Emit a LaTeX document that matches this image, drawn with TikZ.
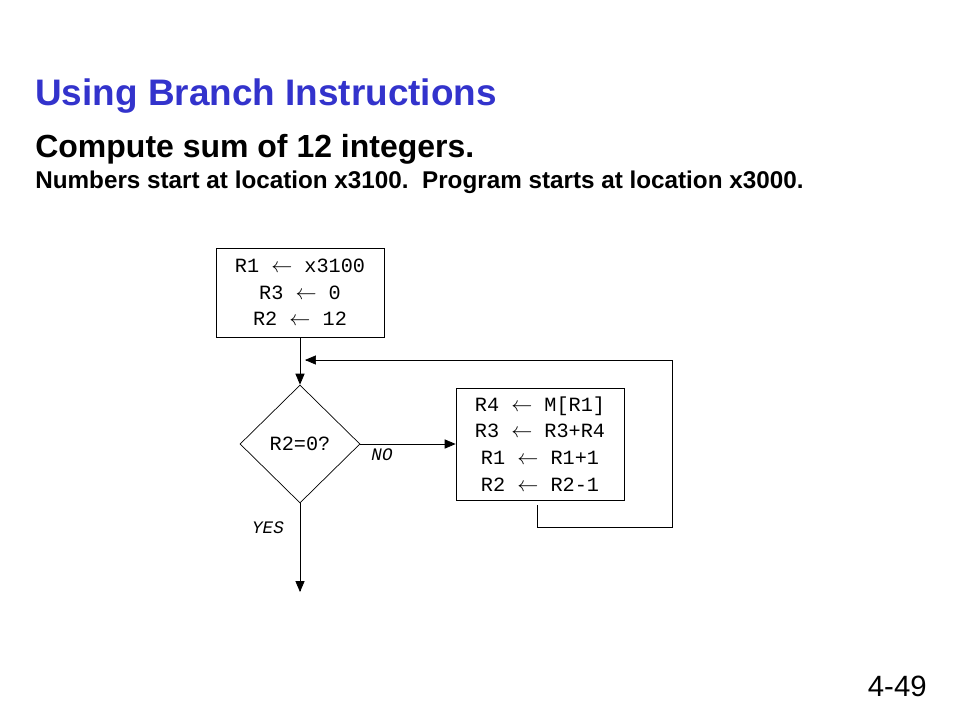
\documentclass[tikz,border=0pt]{standalone}
\usepackage{fontspec}
\setmainfont{Liberation Sans}
\setmonofont{Liberation Mono}
\usepackage{tikz}
\usetikzlibrary{shapes,arrows}
\usetikzlibrary{positioning}
\definecolor{titleblue}{RGB}{51,51,204}
\tikzstyle{block} = [rectangle, draw, text centered, align=center,
    minimum width=3.36cm, font=\ttfamily\fontsize{11.5}{15.2}\selectfont]
\tikzstyle{decision} = [diamond, draw, aspect=1, inner sep=0pt,
    minimum width=2.4cm, minimum height=2.36cm, font=\ttfamily\fontsize{11.5}{14}\selectfont]
\tikzstyle{branchlabel} = [font=\ttfamily\itshape\fontsize{10}{12}\selectfont, inner sep=0pt]
\tikzstyle{line} = [draw, -triangle 45]

\begin{document}
\begin{tikzpicture}[node distance = 3.03cm, auto]
  \useasboundingbox (0,0) rectangle (19.2,-14.4);
  % Headings
  \node [anchor=base west, inner sep=0pt, text=titleblue, font=\bfseries\fontsize{21}{25}\selectfont]
    (title) at (0.7,-2.1) {Using Branch Instructions};
  \node [anchor=base west, inner sep=0pt, font=\bfseries\fontsize{18.2}{22}\selectfont]
    (task) at (0.7,-3.14) {Compute sum of 12 integers.};
  \node [anchor=base west, inner sep=0pt, font=\bfseries\fontsize{13.8}{16}\selectfont]
    (where) at (0.7,-3.76) {Numbers start at location x3100.\ \ Program starts at location x3000.};
  \node [anchor=base east, inner sep=0pt, font=\fontsize{16.7}{20}\selectfont]
    (slide) at (18.54,-13.92) {4-49};
  % Place nodes
  \node [block, minimum height=1.78cm] (init) at (6.0,-5.85)
    {R1 $\leftarrow$ x3100\\ R3 $\leftarrow$ 0\\ R2 $\leftarrow$ 12};
  \node [decision, below of=init] (test) {R2=0?};
  \node [block, minimum height=2.24cm, right of=test, node distance=4.8cm] (body)
    {R4 $\leftarrow$ M[R1]\\ R3 $\leftarrow$ R3+R4\\ R1 $\leftarrow$ R1+1\\ R2 $\leftarrow$ R2-1};
  \node [branchlabel] (no) at (7.64,-9.1) {NO};
  \node [branchlabel] (yes) at (5.36,-10.56) {YES};
  \coordinate (done) at (6.0,-11.84);
  \coordinate (loopstart) at (10.74,-10.1);
  \coordinate (back) at (6.1,-7.2);
  % Draw edges
  \path[line] (init) -- (test);
  \path[line] (test) -- (body);
  \path[line] (test) -- (done);
  \path[line] (loopstart) -- ++(0,-0.44) -| (13.44,-7.2) -- (back);
\end{tikzpicture}
\end{document}
